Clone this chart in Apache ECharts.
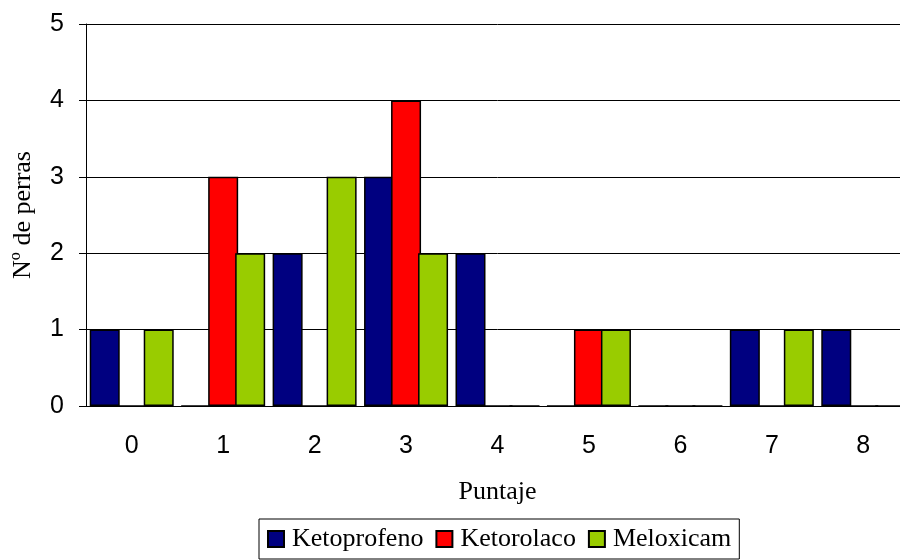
<!DOCTYPE html>
<html>
<head>
<meta charset="utf-8">
<script src="https://cdn.jsdelivr.net/npm/echarts@6/dist/echarts.min.js"></script>
<style>
html,body{margin:0;padding:0;background:#fff;overflow:hidden}
#main{width:909px;height:560px}
</style>
</head>
<body>
<div id="main"></div>
<script>
const categories=['0','1','2','3','4','5','6','7','8']
const ketoprofeno=[1,0,2,3,2,0,0,1,1]
const ketorolaco=[0,3,0,4,0,1,0,0,0]
const meloxicam=[1,2,3,2,0,1,0,1,0]

const chartDom=document.getElementById('main')
let myChart=echarts.init(chartDom)
let option;
const serif='"Liberation Serif", "Times New Roman", serif'
const sans='"Liberation Sans", Arial, sans-serif'
const barStyle=(c)=>({color:c,borderColor:'#000',borderWidth:1.5})
// plot runs a few pixels past the right edge of the window, like the original
option={
    backgroundColor:'#fff',
    animation:false,
    grid:{left:86,right:0,top:24,bottom:154},
    legend:{
        left:259,
        bottom:1,
        padding:[7,8,7,8],
        itemWidth:16,
        itemHeight:16,
        itemGap:12,
        borderColor:'#000',
        borderWidth:1,
        icon:'rect',
        textStyle:{fontFamily:serif,fontSize:26,color:'#000',padding:[0,0,0,3]}
    },
    xAxis:{
        type:'category',
        data:categories,
        name:'Puntaje',
        nameLocation:'middle',
        nameGap:73,
        nameTextStyle:{fontFamily:serif,fontSize:26,color:'#000'},
        axisLine:{lineStyle:{color:'#000',width:1}},
        axisTick:{length:7,lineStyle:{color:'#000'}},
        axisLabel:{fontFamily:sans,fontSize:25,color:'#000',margin:28}
    },
    yAxis:{
        type:'value',
        min:0,
        max:5,
        interval:1,
        name:'Nº de perras',
        nameLocation:'middle',
        nameGap:50,
        nameTextStyle:{fontFamily:serif,fontSize:26,color:'#000'},
        axisLine:{show:true,lineStyle:{color:'#000',width:1}},
        axisTick:{show:true,length:7,lineStyle:{color:'#000'}},
        axisLabel:{fontFamily:sans,fontSize:25,color:'#000',margin:22},
        splitLine:{lineStyle:{color:'#000',width:1}}
    },
    series:[
        {name:'Ketoprofeno',type:'bar',data:ketoprofeno,barWidth:30,barGap:'-10%',itemStyle:barStyle('#000080')},
        {name:'Ketorolaco',type:'bar',data:ketorolaco,barWidth:30,barGap:'-10%',itemStyle:barStyle('#ff0000')},
        {name:'Meloxicam',type:'bar',data:meloxicam,barWidth:30,barGap:'-10%',itemStyle:barStyle('#99cc00')}
    ]
}

option && myChart.setOption(option);
</script>
</body>
</html>
